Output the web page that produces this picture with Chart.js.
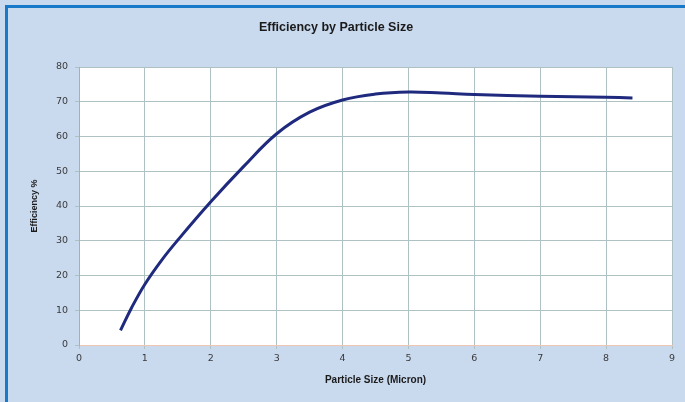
<!DOCTYPE html>
<html>
<head>
<meta charset="utf-8">
<script src="https://cdn.jsdelivr.net/npm/chart.js@4/dist/chart.umd.min.js"></script>
<style>
  html, body { margin: 0; padding: 0; }
  body { width: 685px; height: 402px; background: #c9d9ee; position: relative; overflow: hidden; }
  #frame { position: absolute; left: 5px; top: 5px; width: 680px; height: 397px;
           border-left: 3px solid #1779c8; border-top: 3px solid #1779c8; box-sizing: border-box; }
  #chart { position: absolute; left: 0; top: 0; }
</style>
</head>
<body>
<div id="frame"></div>
<canvas id="chart" width="685" height="402"></canvas>
<script>
// particle size (micron) and efficiency (%)
const particleSize = [0.63, 0.8, 1, 1.25, 1.5, 2, 2.5, 3, 3.5, 4, 4.5, 5, 5.5, 6, 7, 8, 8.4];
const efficiency   = [4.2, 10.8, 17.5, 24.3, 30.2, 41.2, 51.4, 60.8, 67, 70.5, 72.2, 72.8, 72.5, 72.1, 71.6, 71.3, 71.1];

const xTicks = [0, 1, 2, 3, 4, 5, 6, 7, 8, 9];
const yTicks = [0, 10, 20, 30, 40, 50, 60, 70, 80];

const points = particleSize.map((x, i) => ({ x: x, y: efficiency[i] }));

// white plot area
const plotBackground = {
  id: 'plotBackground',
  beforeDraw(chart) {
    const { ctx, chartArea } = chart;
    ctx.save();
    ctx.fillStyle = '#ffffff';
    ctx.fillRect(chartArea.left, chartArea.top, chartArea.right - chartArea.left, chartArea.bottom - chartArea.top);
    ctx.restore();
  }
};

const tickFont = { family: 'DejaVu Sans', size: 9.5 };
const gridColor = '#aec2c3';

new Chart(document.getElementById('chart'), {
  type: 'scatter',
  data: {
    datasets: [{
      data: points,
      showLine: true,
      borderColor: '#1f2a7e',
      borderWidth: 3,
      pointRadius: 0,
      tension: 0.4
    }]
  },
  options: {
    responsive: false,
    animation: false,
    layout: { padding: { left: 0, right: 13, top: 0, bottom: 0 } },
    plugins: {
      legend: { display: false },
      tooltip: { enabled: false },
      title: {
        display: true,
        text: 'Efficiency by Particle Size',
        color: '#1a1a1a',
        font: { family: 'Liberation Sans', size: 12.5, weight: 'bold' },
        padding: { top: 20, bottom: 32 }
      }
    },
    scales: {
      x: {
        type: 'linear',
        min: 0,
        max: 9,
        afterBuildTicks: (s) => { s.ticks = xTicks.map(v => ({ value: v })); },
        afterFit: (s) => { s.height = 57; },
        ticks: { color: '#3a3a3a', font: tickFont, padding: 4, maxRotation: 0 },
        grid: { color: gridColor, tickLength: 4, drawTicks: true },
        border: { color: '#f0c6b2', width: 1 },
        title: {
          display: true,
          text: 'Particle Size (Micron)',
          color: '#1a1a1a',
          font: { family: 'Liberation Sans', size: 10, weight: 'bold' },
          padding: { top: 0, bottom: 16 }
        }
      },
      y: {
        type: 'linear',
        min: 0,
        max: 80,
        afterBuildTicks: (s) => { s.ticks = yTicks.map(v => ({ value: v })); },
        afterFit: (s) => { s.width = 79; },
        ticks: { color: '#3a3a3a', font: tickFont, padding: 7 },
        grid: { color: gridColor, tickLength: 4, drawTicks: true },
        border: { color: '#9fb2b4', width: 1 },
        title: {
          display: true,
          text: 'Efficiency %',
          color: '#1a1a1a',
          font: { family: 'Liberation Sans', size: 9, weight: 'bold' },
          padding: { top: 29, bottom: 0 }
        }
      }
    }
  },
  plugins: [plotBackground]
});
</script>
</body>
</html>
